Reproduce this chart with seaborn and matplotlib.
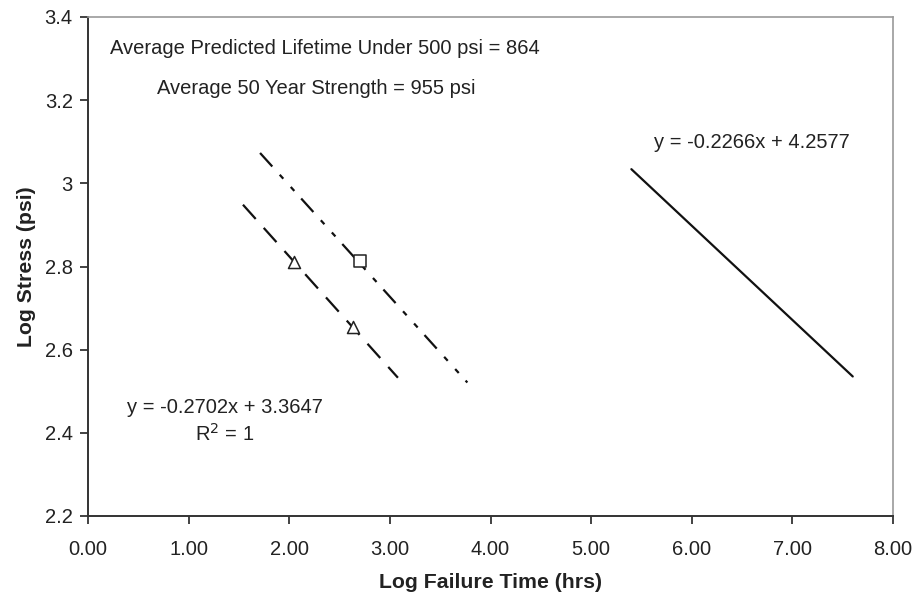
import numpy as np
import pandas as pd
import matplotlib
matplotlib.use("Agg")
import matplotlib.pyplot as plt
import seaborn as sns

# Fitted trend lines: slope / intercept as printed in the equations, with x spans
solid_slope, solid_intercept = -0.2266, 4.2577
solid_x = [5.40, 7.60]

dashed_slope, dashed_intercept = -0.2702, 3.3647
dashed_x = [1.54, 3.08]

# Measured failures
triangle_x = [2.05, 2.63]
triangle_y = [2.811, 2.654]

square_x = [2.70]
square_y = [2.813]

# Extrapolated line through the square point
dashdot_x = [1.71, 3.77]
dashdot_y = [3.073, 2.521]

x_ticks = [0, 1, 2, 3, 4, 5, 6, 7, 8]
y_ticks = [2.2, 2.4, 2.6, 2.8, 3.0, 3.2, 3.4]
y_tick_labels = ["2.2", "2.4", "2.6", "2.8", "3", "3.2", "3.4"]

sns.set_theme(style="white")
plt.rcParams["font.family"] = ["Liberation Sans", "DejaVu Sans"]

fig, ax = plt.subplots(figsize=(9.17, 5.95), dpi=100)
fig.subplots_adjust(left=88 / 917, right=893 / 917, top=1 - 17 / 595, bottom=1 - 516 / 595)

solid_df = pd.DataFrame({"x": solid_x,
                         "y": [solid_slope * v + solid_intercept for v in solid_x]})
dashed_df = pd.DataFrame({"x": dashed_x,
                          "y": [dashed_slope * v + dashed_intercept for v in dashed_x]})
dashdot_df = pd.DataFrame({"x": dashdot_x, "y": dashdot_y})

lw = 1.6
sns.lineplot(data=solid_df, x="x", y="y", ax=ax, color="#111111", lw=lw)
sns.lineplot(data=dashed_df, x="x", y="y", ax=ax, color="#111111", lw=lw)
ax.lines[-1].set_dashes((8.6, 5.4))
sns.lineplot(data=dashdot_df, x="x", y="y", ax=ax, color="#111111", lw=lw)
ax.lines[-1].set_dashes((8.2, 5.0, 2.4, 5.0, 2.4, 4.6))

sns.scatterplot(x=triangle_x, y=triangle_y, ax=ax, marker="^", s=75,
                facecolor="white", edgecolor="#222222", linewidth=1.1, zorder=5)
sns.scatterplot(x=square_x, y=square_y, ax=ax, marker="s", s=75,
                facecolor="white", edgecolor="#222222", linewidth=1.1, zorder=5)

ax.set_xlim(0, 8)
ax.set_ylim(2.2, 3.4)
ax.set_xticks(x_ticks)
ax.set_xticklabels([f"{v:.2f}" for v in x_ticks])
ax.set_yticks(y_ticks)
ax.set_yticklabels(y_tick_labels)

ax.tick_params(axis="both", which="both", direction="out", length=6, width=1.2,
               colors="#222222", labelsize=14.5, pad=5, bottom=True, left=True)
ax.tick_params(axis="x", pad=11)

for side in ["left", "bottom"]:
    ax.spines[side].set_color("#333333")
    ax.spines[side].set_linewidth(1.4)
for side in ["top", "right"]:
    ax.spines[side].set_color("#9a9a9a")
    ax.spines[side].set_linewidth(1.2)

ax.set_xlabel("Log Failure Time (hrs)", fontsize=15.3, fontweight="bold",
              color="#222222", labelpad=10)
ax.set_ylabel("Log Stress (psi)", fontsize=15.3, fontweight="bold",
              color="#222222", labelpad=6)

txt = dict(fontsize=14.5, color="#222222")
ax.text(0.22, 3.325, "Average Predicted Lifetime Under 500 psi = 864", ha="left", va="center", **txt)
ax.text(0.69, 3.227, "Average 50 Year Strength = 955 psi", ha="left", va="center", **txt)
ax.text(6.60, 3.099, f"y = {solid_slope}x + {solid_intercept}", ha="center", va="center", **txt)
ax.text(1.36, 2.462, f"y = {dashed_slope}x + {dashed_intercept}", ha="center", va="center", **txt)
ax.text(1.36, 2.397, "R$^2$ = 1", ha="center", va="center", **txt)

fig.savefig("out.png", dpi=100)
